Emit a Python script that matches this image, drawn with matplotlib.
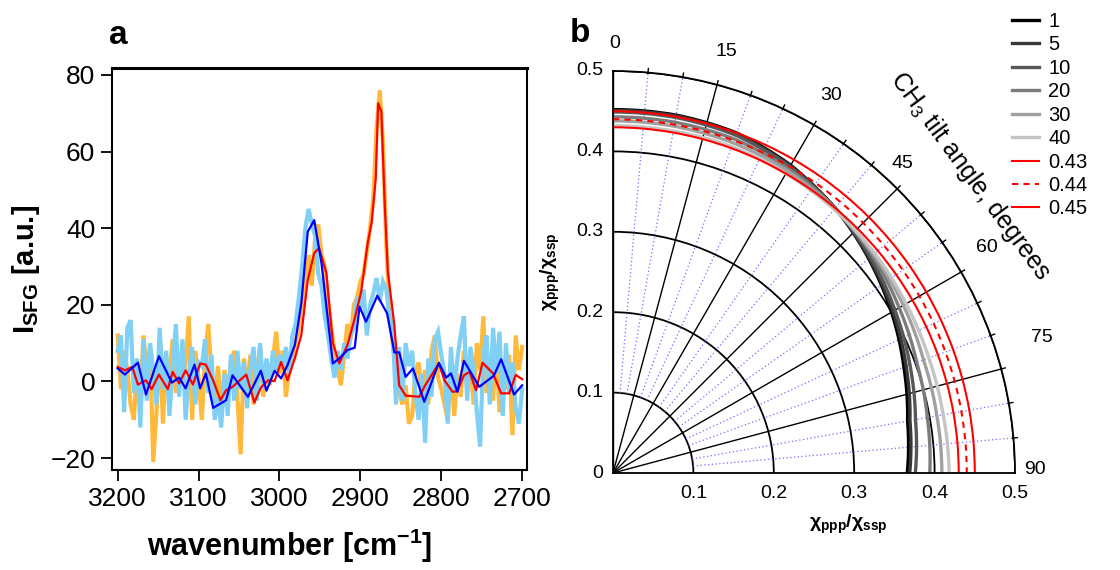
import numpy as np
import matplotlib
matplotlib.use("Agg")
import matplotlib.pyplot as plt
import matplotlib.transforms as mtransforms

plt.rcParams['font.family'] = ['Liberation Sans', 'DejaVu Sans']
plt.rcParams['mathtext.fontset'] = 'custom'
plt.rcParams['mathtext.rm'] = 'Liberation Sans'
plt.rcParams['mathtext.it'] = 'Liberation Sans:italic'
plt.rcParams['mathtext.bf'] = 'Liberation Sans:bold'

# ---------------- panel a data ----------------
wn_raw = np.arange(3200, 2699, -4)
orange_raw = [12, -2, 8, 3, -6, -10, 5, -4, 12, 2, 9, -21, -8, 10, -11, 6, 2, 11, -3, 7, 0, 5, 17, -10, 8, 1,
              -10, 6, 15, 2, -6, 4, -8, 3, -3, 5, 8, -4, -19, 6, -2, 7, -6, 3, 9, -4, 4, -1, 6, 13, 2,
              8, -4, 3, 6, 10, 14, 20, 27, 33, 25, 37, 41, 33, 30, 21, 14, 8, 3, -1, 7, 15, 11, 20, 22, 26,
              28, 34, 40, 48, 66, 76, 62, 36, 18, 10, 2, -3, -6, -1, -11, -9, 2, 5, -4, 3, -6, 8, 12, 1, -2,
              -6, -10, 4, -9, 2, -4, 8, -2, 5, -6, 10, 3, 17, -3, 6, -5, 9, -8, 4, -2, 7, -14, 12, 3, 9]
lightblue_raw = [8, 12, -8, 14, 16, -3, 6, -12, 11, -5, 10, 3, -6, 14, -2, 8, -9, 4, 15, -4, 11, -10, 2, 9, -6, 5,
                 4, 11, -3, 7, -10, -4, -12, 2, -9, 7, -5, 8, -2, 5, -7, 3, 9, -5, 10, -2, 6, 0, 8, 3, 7,
                 4, 9, 2, 12, 15, 22, 30, 40, 45, 41, 38, 28, 25, 17, 12, 6, 1, 8, 3, 10, 6, 12, 14, 22, 19,
                 24, 12, 20, 23, 27, 21, 26, 24, 17, 14, -6, 9, -5, 10, 4, 8, -3, -10, 2, -16, 6, -4, 11, 13, 7,
                 2, -11, 9, -3, 6, 12, 17, -5, 9, 3, -8, -17, 7, 12, -6, 14, 2, 13, -9, 10, -3, 5, -7, -11, -2]

red_wn = [3200, 3191, 3182, 3175, 3165, 3158, 3149, 3138, 3132, 3124, 3116, 3107, 3098, 3091, 3082, 3073,
          3066, 3058, 3041, 3031, 3023, 3014, 3006, 2998, 2990, 2981, 2973, 2965, 2957, 2951, 2942, 2934,
          2926, 2916, 2907, 2899, 2891, 2886, 2881, 2878, 2874, 2870, 2866, 2858, 2852, 2844, 2827, 2821,
          2803, 2796, 2786, 2780, 2772, 2765, 2757, 2749, 2736, 2726, 2716, 2708, 2700]
red_val = [3.8, 2.9, 3.8, -0.8, 0.3, -2.0, 1.8, -2.0, 2.5, -0.5, 2.9, -0.8, 4.7, 4.4, 0.3, -4.9,
           -2.3, -1.4, 1.8, -5.5, -1.6, 0.3, 0.1, 5.1, 0.3, 6.0, 12.1, 26.5, 33.5, 34.8, 28.3, 10.0,
           4.7, 9.5, 16.4, 23.4, 36.0, 41.6, 52.9, 72.6, 70.4, 46.9, 28.6, 14.7, -1.0, -3.7, -4.0, -1.4,
           4.7, 0.3, -2.7, -2.5, 1.6, 2.5, -2.3, 4.9, 2.1, -3.1, -3.1, 1.7, 0.6]

blue_wn = [3200, 3191, 3175, 3165, 3149, 3133, 3124, 3116, 3105, 3098, 3091, 3082, 3066, 3058, 3039, 3023,
           3016, 3006, 2998, 2990, 2981, 2973, 2965, 2957, 2948, 2934, 2926, 2916, 2907, 2901, 2893, 2879,
           2867, 2858, 2852, 2844, 2835, 2821, 2803, 2794, 2788, 2780, 2772, 2753, 2735, 2726, 2710, 2700]
blue_val = [3.4, 1.8, 4.9, -3.4, 6.6, -0.3, 1.0, -1.8, 4.4, -1.8, 2.1, -6.9, -4.9, 1.6, -4.0, 2.8,
            -2.4, 2.8, 0.8, 4.3, 9.5, 20.4, 39.1, 42.1, 30.8, 4.7, 6.0, 8.2, 8.8, 19.5, 15.6, 22.4,
            17.8, 7.6, 7.6, 1.2, 3.4, -5.3, 4.9, 1.0, 2.1, -2.7, 5.4, -1.4, 1.5, 5.8, -3.4, -1.0]

a_xticks = [3200, 3100, 3000, 2900, 2800, 2700]
a_yticks = [-20, 0, 20, 40, 60, 80]

# ---------------- panel b data ----------------
tilt_deg = [0, 10, 20, 30, 40, 50, 60, 70, 80, 90]
width_labels = ['1', '5', '10', '20', '30', '40']
ratio_w1 = [0.452, 0.452, 0.450, 0.442, 0.430, 0.415, 0.400, 0.385, 0.372, 0.366]
ratio_w5 = [0.451, 0.451, 0.449, 0.441, 0.430, 0.416, 0.402, 0.388, 0.375, 0.369]
ratio_w10 = [0.449, 0.449, 0.447, 0.440, 0.430, 0.418, 0.405, 0.393, 0.382, 0.376]
ratio_w20 = [0.443, 0.443, 0.442, 0.437, 0.430, 0.421, 0.411, 0.402, 0.397, 0.394]
ratio_w30 = [0.438, 0.438, 0.437, 0.434, 0.429, 0.423, 0.417, 0.411, 0.409, 0.409]
ratio_w40 = [0.432, 0.432, 0.432, 0.430, 0.428, 0.425, 0.421, 0.418, 0.417, 0.418]
ratio_labels = ['0.43', '0.44', '0.45']
ratio_const = [0.43, 0.44, 0.45]
b_rticks = [0.1, 0.2, 0.3, 0.4, 0.5]
b_rlabels_left = ['0', '0.1', '0.2', '0.3', '0.4', '0.5']
b_thetaticks = [0, 15, 30, 45, 60, 75, 90]

# ---------------- figure ----------------
W, H = 1120, 570
fig = plt.figure(figsize=(W / 100, H / 100), dpi=100)

def fx(px):
    return px / W

def fy(py):
    return 1 - py / H

# panel a
axa = fig.add_axes([fx(112), fy(470), fx(527) - fx(112), fy(68) - fy(470)])
axa.plot(wn_raw, orange_raw, color='#FFBA3C', lw=3.0, solid_joinstyle='miter')
axa.plot(wn_raw, lightblue_raw, color='#80CFF4', lw=3.0, solid_joinstyle='miter')
axa.plot(red_wn, red_val, color='#FF0000', lw=1.6)
axa.plot(blue_wn, blue_val, color='#0000FF', lw=1.6)
axa.set_xlim(3207, 2694)
axa.set_ylim(-23.1, 81.8)
axa.set_xticks(a_xticks)
axa.set_yticks(a_yticks)
axa.tick_params(direction='out', length=8, width=1.3, labelsize=19, pad=4)
for s in axa.spines.values():
    s.set_linewidth(1.5)
axa.spines['top'].set_linewidth(2.2)
axa.set_xlabel(r'wavenumber [cm$^\mathbf{-1}$]', fontsize=22, fontweight='bold')
axa.xaxis.set_label_coords(0.427, -0.14)
axa.set_ylabel(r'I$_\mathbf{SFG}$ [a.u.]', fontsize=21, fontweight='bold', labelpad=6)
fig.text(fx(118), fy(35), 'a', fontsize=24, fontweight='bold', ha='center', va='center')

# panel b
axb = fig.add_axes([fx(613), fy(473), fx(1015) - fx(613), fy(71) - fy(473)], projection='polar')
axb.set_theta_zero_location('N')
axb.set_theta_direction(-1)
axb.set_thetamin(0)
axb.set_thetamax(90)
axb.set_rlim(0, 0.5)
axb.set_xticks(np.deg2rad(b_thetaticks))
axb.set_xticklabels([])
axb.set_yticks(b_rticks)
axb.set_yticklabels([])
axb.grid(True, color='black', lw=1.0, ls='-')
axb.yaxis.grid(True, color='black', lw=1.3)
for s in axb.spines.values():
    s.set_linewidth(1.3)
    s.set_color('black')

for ang in range(5, 90, 5):
    if ang % 15:
        axb.plot([np.deg2rad(ang)] * 2, [0.1, 0.5], color='#6f6fff', lw=0.9, ls=(0, (1, 2)))
    axb.plot([np.deg2rad(ang)] * 2, [0.499, 0.505], color='black', lw=1.0, clip_on=False)

th = np.deg2rad(tilt_deg)
greys = ['#000000', '#383838', '#585858', '#7c7c7c', '#a0a0a0', '#c4c4c4']
handles = []
for vals, col, lab in zip([ratio_w1, ratio_w5, ratio_w10, ratio_w20, ratio_w30, ratio_w40], greys, width_labels):
    ln, = axb.plot(th, vals, color=col, lw=2.4, label=lab)
    ln.get_path()._interpolation_steps = 40
    handles.append(ln)
for rc, lab, ls in zip(ratio_const, ratio_labels, ['-', (0, (3, 2.5)), '-']):
    ln, = axb.plot(th, [rc] * len(th), color='#FF0000', lw=1.5, ls=ls, label=lab)
    ln.get_path()._interpolation_steps = 40
    handles.append(ln)

off_left = mtransforms.offset_copy(axb.transData, fig=fig, x=-10, y=0, units='dots')
off_bot = mtransforms.offset_copy(axb.transData, fig=fig, x=0, y=-12, units='dots')
for r, lab in zip([0] + b_rticks, b_rlabels_left):
    axb.text(0, r, lab, transform=off_left, ha='right', va='center', fontsize=14)
for r, lab in zip(b_rticks, b_rlabels_left[1:]):
    axb.text(np.pi / 2, r, lab, transform=off_bot, ha='center', va='top', fontsize=14)

theta_label_px = [(615, 44), (726, 52), (831, 96), (902, 163), (987, 248), (1042, 337), (1035, 470)]
for (px, py), t in zip(theta_label_px, b_thetaticks):
    fig.text(fx(px), fy(py), str(t), fontsize=14, ha='center', va='center')

fig.text(fx(970), fy(176), r'CH$_3$ tilt angle, degrees', fontsize=18, rotation=-53.5,
         rotation_mode='anchor', ha='center', va='center')
fig.text(fx(848), fy(524), r'χ$_\mathbf{ppp}$/χ$_\mathbf{ssp}$', fontsize=14, fontweight='bold',
         ha='center', va='center')
fig.text(fx(550), fy(272), r'χ$_\mathbf{ppp}$/χ$_\mathbf{ssp}$', fontsize=14, fontweight='bold',
         ha='center', va='center', rotation=90)
fig.text(fx(580), fy(33), 'b', fontsize=24, fontweight='bold', ha='center', va='center')

fig.legend(handles=handles, labels=width_labels + ratio_labels, loc='upper left',
           bbox_to_anchor=(fx(1004), fy(4)), frameon=False, fontsize=14.5,
           handlelength=1.35, handletextpad=0.45, labelspacing=0.22, borderaxespad=0)

fig.savefig('out.png', dpi=100)
